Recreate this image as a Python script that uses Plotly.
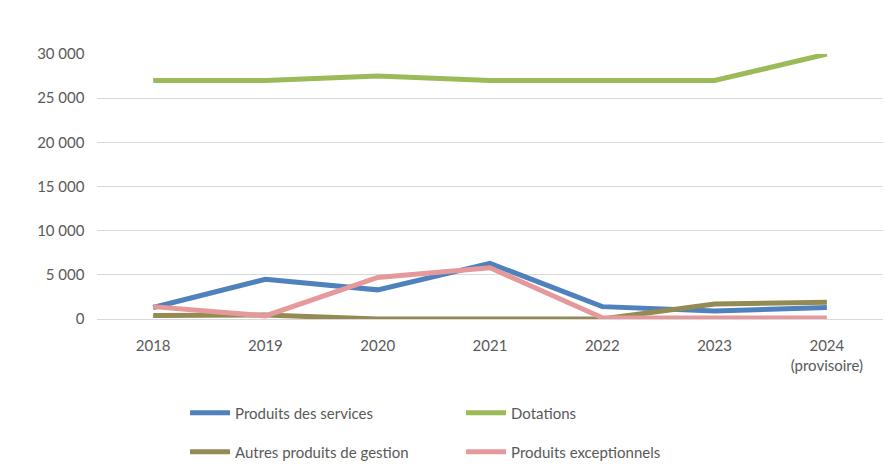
import plotly.graph_objects as go

years = ["2018", "2019", "2020", "2021", "2022", "2023", "2024<br>(provisoire)"]

produits_services = [1300, 4500, 3300, 6300, 1400, 900, 1300]
dotations = [27000, 27000, 27500, 27000, 27000, 27000, 30000]
autres_produits = [400, 450, 0, 0, 0, 1700, 1900]
produits_exceptionnels = [1400, 350, 4700, 5800, 150, 100, 100]

series = [
    ("Produits des services", produits_services, "#4f81bd", "legend"),
    ("Dotations", dotations, "#9bbb59", "legend"),
    ("Autres produits de gestion", autres_produits, "#948a54", "legend2"),
    ("Produits exceptionnels", produits_exceptionnels, "#e6999a", "legend2"),
]

fig = go.Figure()
for name, vals, color, leg in series:
    fig.add_trace(
        go.Scatter(
            x=years,
            y=vals,
            mode="lines",
            name=name,
            legend=leg,
            line=dict(color=color, width=5),
        )
    )

# page body has an 8px margin, so positions are shifted by 8px
leg_common = dict(
    orientation="h",
    x=0.112,
    xanchor="left",
    yanchor="middle",
    yref="container",
    entrywidth=221,
    entrywidthmode="pixels",
    itemwidth=40,
    font=dict(size=15, color="#595959"),
    bgcolor="rgba(0,0,0,0)",
)

fig.update_layout(
    width=894,
    height=474,
    paper_bgcolor="white",
    plot_bgcolor="white",
    margin=dict(l=89, r=19, t=46, b=163, autoexpand=False),
    font=dict(family="Lato, Noto Sans, sans-serif", size=15, color="#595959"),
    legend=dict(y=1 - 405 / 474, **leg_common),
    legend2=dict(y=1 - 444 / 474, **leg_common),
    showlegend=True,
    separators=", ",
)
fig.update_xaxes(
    type="category",
    range=[-0.5, 6.5],
    showgrid=False,
    showline=False,
    ticks="",
    ticklabelstandoff=16,
    tickfont=dict(size=15, color="#595959"),
)
fig.update_yaxes(
    range=[0, 30000],
    dtick=5000,
    showgrid=True,
    gridcolor="#d9d9d9",
    gridwidth=1,
    zeroline=True,
    zerolinecolor="#d9d9d9",
    zerolinewidth=1,
    tickformat=",d",
    ticksuffix="   ",
    tickfont=dict(size=15, color="#595959"),
)

fig.write_html("out.html")
